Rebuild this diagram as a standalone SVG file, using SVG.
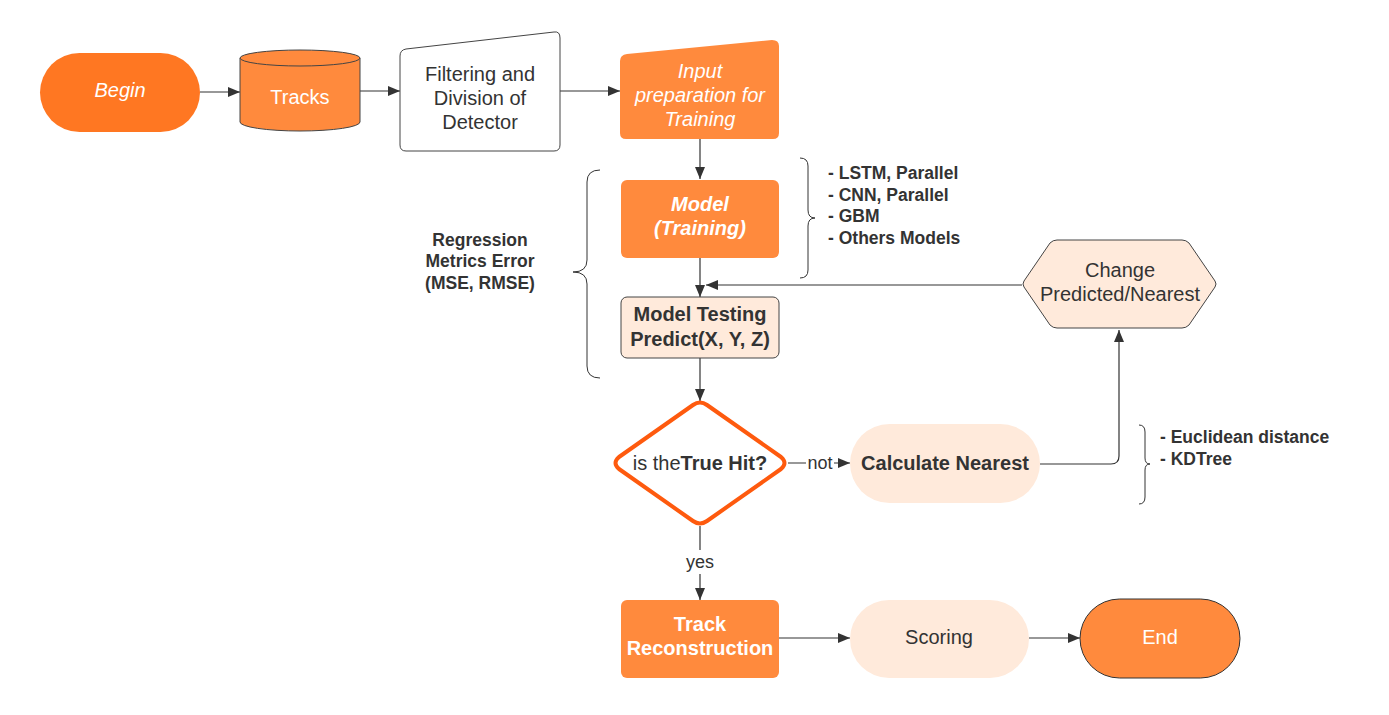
<svg xmlns="http://www.w3.org/2000/svg" width="1389" height="715" viewBox="0 0 1389 715">
<defs>
<marker id="arr" viewBox="0 0 12 10" refX="12" refY="5" markerWidth="12" markerHeight="10" markerUnits="userSpaceOnUse" orient="auto">
<path d="M0,0 L12,5 L0,10 Z" fill="#333"/>
</marker>
</defs>
<style>
text{font-family:"Liberation Sans",Arial,sans-serif;}
.t{font-size:20px;fill:#333;text-anchor:middle;}
.w{font-size:20px;fill:#fff;text-anchor:middle;}
.b{font-weight:bold;}
.i{font-style:italic;}
.ann{font-size:17.5px;font-weight:bold;fill:#333;}
.lbl{font-size:18px;fill:#333;text-anchor:middle;}
.conn{fill:none;stroke:#333;stroke-width:1.2;}
.brace{fill:none;stroke:#333;stroke-width:1;}
.peach{fill:#FFEADB;}
.orange{fill:#FF8A3D;}
</style>
<rect width="1389" height="715" fill="#fff"/>

<g id="connectors">
<path class="conn" d="M200,92 H240" marker-end="url(#arr)"/>
<path class="conn" d="M360,91 H400" marker-end="url(#arr)"/>
<path class="conn" d="M560,91 H620" marker-end="url(#arr)"/>
<path class="conn" d="M700,139 V179" marker-end="url(#arr)"/>
<path class="conn" d="M700,258 V297" marker-end="url(#arr)"/>
<path class="conn" d="M1022,285 H706" marker-end="url(#arr)"/>
<path class="conn" d="M700,358 V401" marker-end="url(#arr)"/>
<path class="conn" d="M788,463 H850" marker-end="url(#arr)"/>
<rect x="806" y="452" width="28" height="20" fill="#fff"/>
<text x="820" y="469" class="lbl">not</text>
<path class="conn" d="M1040,464 H1111 Q1119,464 1119,456 V330" marker-end="url(#arr)"/>
<path class="conn" d="M700,526 V600" marker-end="url(#arr)"/>
<rect x="682" y="550" width="36" height="24" fill="#fff"/>
<text x="700" y="568" class="lbl">yes</text>
<path class="conn" d="M779,638 H850" marker-end="url(#arr)"/>
<path class="conn" d="M1029,638 H1080" marker-end="url(#arr)"/>
</g>

<g id="begin">
<rect x="40" y="53" width="160" height="79" rx="39.5" fill="#FF7722"/>
<text x="120" y="97" class="w i">Begin</text>
</g>

<g id="tracks">
<path d="M240,58 V122 A60,9 0 0 0 360,122 V58" fill="#FF8A3D" stroke="#444" stroke-width="1"/>
<ellipse cx="300" cy="58" rx="60" ry="8" fill="#FF8A3D" stroke="#444" stroke-width="1"/>
<text x="300" y="104" class="w">Tracks</text>
</g>

<g id="filtering">
<path d="M406,49 L554,32 Q560,31 560,38 V145 Q560,151 554,151 H406 Q400,151 400,145 V56 Q400,50 406,49 Z" fill="#fff" stroke="#444" stroke-width="1"/>
<text x="480" y="81" class="t">Filtering and</text>
<text x="480" y="105" class="t">Division of</text>
<text x="480" y="129" class="t">Detector</text>
</g>

<g id="input-prep">
<path d="M627,54 L772,40 Q779,40 779,46 V133 Q779,139 773,139 H626 Q620,139 620,133 V61 Q620,55 627,54 Z" class="orange"/>
<text x="700" y="78" class="w i">Input</text>
<text x="700" y="102" class="w i">preparation for</text>
<text x="700" y="126" class="w i">Training</text>
</g>

<g id="model-training">
<rect x="621" y="180" width="158" height="78" rx="6" class="orange"/>
<text x="700" y="211" class="w i b">Model</text>
<text x="700" y="235" class="w i b">(Training)</text>
</g>

<g id="model-list">
<path class="brace" d="M800,158 Q808,158 808,166 V210 Q808,218 815,218 Q808,218 808,226 V270 Q808,278 800,278"/>
<text x="828" y="179" class="ann">- LSTM, Parallel</text>
<text x="828" y="201" class="ann">- CNN, Parallel</text>
<text x="828" y="222" class="ann">- GBM</text>
<text x="828" y="244" class="ann">- Others Models</text>
</g>

<g id="regression-metrics">
<path class="brace" d="M600,170 Q587,170 587,182 V260 Q587,272 573,272 Q587,272 587,284 V366 Q587,378 600,378"/>
<text x="480" y="246" class="ann" text-anchor="middle">Regression</text>
<text x="480" y="267" class="ann" text-anchor="middle">Metrics Error</text>
<text x="480" y="289" class="ann" text-anchor="middle">(MSE, RMSE)</text>
</g>

<g id="model-testing">
<rect x="621" y="297" width="158" height="61" rx="6" class="peach" stroke="#444" stroke-width="1"/>
<text x="700" y="321" class="t b">Model Testing</text>
<text x="700" y="346" class="t b">Predict(X, Y, Z)</text>
</g>

<g id="change">
<path d="M1024,281 L1050,243 Q1053,240 1057,240 H1182 Q1186,240 1189,243 L1215,281 Q1217,284 1215,287 L1189,325 Q1186,328 1182,328 H1057 Q1053,328 1050,325 L1024,287 Q1022,284 1024,281 Z" class="peach" stroke="#444" stroke-width="1"/>
<text x="1120" y="277" class="t">Change</text>
<text x="1120" y="301" class="t">Predicted/Nearest</text>
</g>

<g id="decision">
<path d="M693,405 Q700,400 707,405 L781,457 Q788,463 781,469 L707,521 Q700,526 693,521 L619,469 Q612,463 619,457 Z" fill="#fff" stroke="#FE5A0E" stroke-width="4" stroke-linejoin="round"/>
<text x="700" y="470" class="t">is the<tspan class="b">True Hit?</tspan></text>
</g>

<g id="calculate-nearest">
<rect x="850" y="424" width="190" height="79" rx="39.5" class="peach"/>
<text x="945" y="470" class="t b">Calculate Nearest</text>
</g>

<g id="nearest-methods">
<path class="brace" d="M1139,425 Q1145,425 1145,432 V458 Q1145,464 1150,464 Q1145,464 1145,470 V497 Q1145,504 1139,504"/>
<text x="1160" y="443" class="ann">- Euclidean distance</text>
<text x="1160" y="465" class="ann">- KDTree</text>
</g>

<g id="track-reconstruction">
<rect x="621" y="600" width="158" height="78" rx="6" class="orange"/>
<text x="700" y="631" class="w b">Track</text>
<text x="700" y="655" class="w b">Reconstruction</text>
</g>

<g id="scoring">
<rect x="850" y="600" width="179" height="78" rx="39" class="peach"/>
<text x="939" y="644" class="t">Scoring</text>
</g>

<g id="end">
<rect x="1080" y="599" width="160" height="79" rx="39.5" class="orange" stroke="#333" stroke-width="1"/>
<text x="1160" y="644" class="w">End</text>
</g>
</svg>
